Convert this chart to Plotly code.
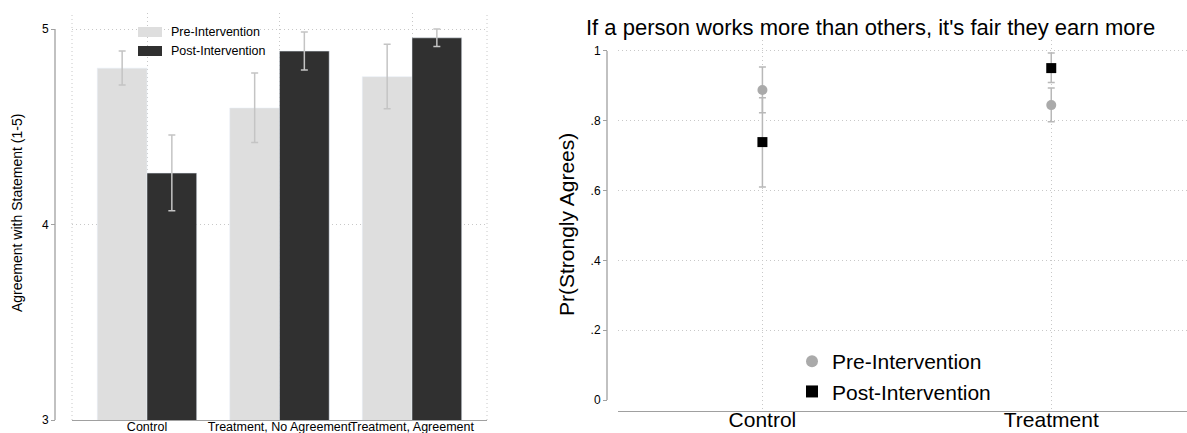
import plotly.graph_objects as go

W, H = 1187, 433

# ---------------- data ----------------
groups_left = ["Control", "Treatment, No Agreement", "Treatment, Agreement"]
pre_mean = [4.800, 4.596, 4.756]
pre_lo = [4.714, 4.420, 4.592]
pre_hi = [4.887, 4.775, 4.922]
post_mean = [4.263, 4.887, 4.955]
post_lo = [4.070, 4.790, 4.910]
post_hi = [4.458, 4.985, 5.000]
left_ticks = [3, 4, 5]

groups_right = ["Control", "Treatment"]
pre_p = [0.888, 0.845]
pre_p_lo = [0.823, 0.797]
pre_p_hi = [0.954, 0.894]
post_p = [0.739, 0.951]
post_p_lo = [0.610, 0.910]
post_p_hi = [0.866, 0.994]
right_ticks = [0, 0.2, 0.4, 0.6, 0.8, 1]
right_ticktext = ["0", ".2", ".4", ".6", ".8", "1"]

series_names = ["Pre-Intervention", "Post-Intervention"]
title_right = "If a person works more than others, it's fair they earn more"
ytitle_left = "Agreement with Statement (1-5)"
ytitle_right = "Pr(Strongly Agrees)"

# ---------------- style ----------------
FONT = "Liberation Sans, Arial, Helvetica, sans-serif"
PRE_BAR = "#dedede"
POST_BAR = "#303030"
ERR = "#c4c4c4"
GRID = "#c8c8c8"
AXIS = "#a0a0a0"
DOT = "1px,3px"


def px(p):
    return p / W


def py(p):
    return 1 - p / H


fig = go.Figure()

# ---- left: bars ----
fig.add_trace(go.Bar(
    x=groups_left, y=pre_mean, name=series_names[0], marker_color=PRE_BAR,
    error_y=dict(type="data", symmetric=False,
                 array=[h - m for h, m in zip(pre_hi, pre_mean)],
                 arrayminus=[m - l for m, l in zip(pre_mean, pre_lo)],
                 color=ERR, thickness=1.5, width=3.5),
    xaxis="x", yaxis="y", showlegend=False))
fig.add_trace(go.Bar(
    x=groups_left, y=post_mean, name=series_names[1], marker_color=POST_BAR,
    error_y=dict(type="data", symmetric=False,
                 array=[h - m for h, m in zip(post_hi, post_mean)],
                 arrayminus=[m - l for m, l in zip(post_mean, post_lo)],
                 color=ERR, thickness=1.5, width=3.5),
    xaxis="x", yaxis="y", showlegend=False))

# ---- right: points ----
fig.add_trace(go.Scatter(
    x=groups_right, y=pre_p, mode="markers", name=series_names[0],
    marker=dict(symbol="circle", size=10, color="#aaaaaa"),
    error_y=dict(type="data", symmetric=False,
                 array=[h - m for h, m in zip(pre_p_hi, pre_p)],
                 arrayminus=[m - l for m, l in zip(pre_p, pre_p_lo)],
                 color="#b8b8b8", thickness=1.5, width=3.5),
    xaxis="x2", yaxis="y2"))
fig.add_trace(go.Scatter(
    x=groups_right, y=post_p, mode="markers", name=series_names[1],
    marker=dict(symbol="square", size=10, color="#000000"),
    error_y=dict(type="data", symmetric=False,
                 array=[h - m for h, m in zip(post_p_hi, post_p)],
                 arrayminus=[m - l for m, l in zip(post_p, post_p_lo)],
                 color="#b8b8b8", thickness=1.5, width=3.5),
    xaxis="x2", yaxis="y2"))

L_X0, L_X1, L_Y0, L_Y1 = 72, 487, 420, 13
R_X0, R_X1, R_Y0, R_Y1 = 618, 1187, 411, 40

fig.update_layout(
    width=W, height=H, margin=dict(l=0, r=0, t=0, b=0, autoexpand=False),
    paper_bgcolor="white", plot_bgcolor="white",
    font=dict(family=FONT, color="black"),
    barmode="group", bargap=0.25, bargroupgap=0,
    xaxis=dict(domain=[px(L_X0), px(L_X1)], range=[-0.566, 2.566],
               type="category", showgrid=True, gridcolor=GRID, griddash=DOT,
               gridwidth=1, showline=True, linecolor=AXIS, linewidth=1.3,
               ticks="", tickfont=dict(size=12.5), tickangle=0,
               ticklabelstandoff=-5, automargin=False, anchor="y"),
    yaxis=dict(domain=[py(L_Y0), py(L_Y1)], range=[3, 5.082],
               tickvals=left_ticks, ticktext=[str(t) for t in left_ticks],
               anchor="free", position=px(55), showline=False,
               ticks="outside", ticklen=4, tickcolor=AXIS, tickwidth=1.3,
               tickfont=dict(size=12), showgrid=True, gridcolor=GRID,
               griddash=DOT, gridwidth=1, zeroline=False, automargin=False),
    xaxis2=dict(domain=[px(R_X0), px(R_X1)], range=[-0.5, 1.47],
                type="category", showgrid=True, gridcolor=GRID, griddash=DOT,
                gridwidth=1, showline=True, linecolor=AXIS, linewidth=1.3,
                ticks="", tickfont=dict(size=21), tickangle=0,
                ticklabelstandoff=-10, automargin=False, anchor="y2"),
    yaxis2=dict(domain=[py(R_Y0), py(R_Y1)], range=[-0.0315, 1.0315],
                tickvals=right_ticks, ticktext=right_ticktext,
                anchor="free", position=px(607), showline=False,
                ticks="outside", ticklen=4, tickcolor=AXIS, tickwidth=1.3,
                tickfont=dict(size=12), showgrid=True, gridcolor=GRID,
                griddash=DOT, gridwidth=1, automargin=False,
                zeroline=True, zerolinecolor="rgba(0,0,0,0)"),
    legend=dict(x=px(792), y=py(341), xanchor="left", yanchor="top",
                font=dict(size=21), bgcolor="rgba(0,0,0,0)",
                itemsizing="constant", tracegroupgap=0),
)

shapes = []
# Stata-style offset y axis lines
shapes.append(dict(type="line", xref="x domain", yref="y",
                   x0=(55 - L_X0) / (L_X1 - L_X0), x1=(55 - L_X0) / (L_X1 - L_X0),
                   y0=left_ticks[0], y1=left_ticks[-1],
                   line=dict(color=AXIS, width=1.3)))
shapes.append(dict(type="line", xref="x2 domain", yref="y2",
                   x0=(607 - R_X0) / (R_X1 - R_X0), x1=(607 - R_X0) / (R_X1 - R_X0),
                   y0=right_ticks[0], y1=right_ticks[-1],
                   line=dict(color=AXIS, width=1.3)))
# vertical dotted lines at left plot edges
for xd in (0, 1):
    shapes.append(dict(type="line", xref="x domain", yref="y domain",
                       x0=xd, x1=xd, y0=0, y1=1, layer="below",
                       line=dict(color=GRID, width=1, dash=DOT)))

# manual legend for left panel
legend_rows = [(PRE_BAR, 32), (POST_BAR, 51)]
annotations = []
for (col, yc), name in zip(legend_rows, series_names):
    shapes.append(dict(type="rect", xref="paper", yref="paper",
                       x0=px(138), x1=px(162), y0=py(yc + 5), y1=py(yc - 5),
                       fillcolor=col, line=dict(width=0)))
    annotations.append(dict(xref="paper", yref="paper", x=px(169), y=py(yc),
                            xanchor="left", yanchor="middle", text=name,
                            showarrow=False, font=dict(size=12.5)))

annotations.append(dict(xref="paper", yref="paper", x=px(870), y=py(27),
                        xanchor="center", yanchor="middle", text=title_right,
                        showarrow=False, font=dict(size=22)))
annotations.append(dict(xref="paper", yref="paper", x=px(17), y=py(213),
                        xanchor="center", yanchor="middle", text=ytitle_left,
                        textangle=-90, showarrow=False, font=dict(size=14)))
annotations.append(dict(xref="paper", yref="paper", x=px(566), y=py(225),
                        xanchor="center", yanchor="middle", text=ytitle_right,
                        textangle=-90, showarrow=False, font=dict(size=21)))

fig.update_layout(shapes=shapes, annotations=annotations)

fig.write_html("out.html", config={"displayModeBar": False},
               post_script="document.body.style.margin='0';"
                           "document.body.style.overflow='hidden';")
